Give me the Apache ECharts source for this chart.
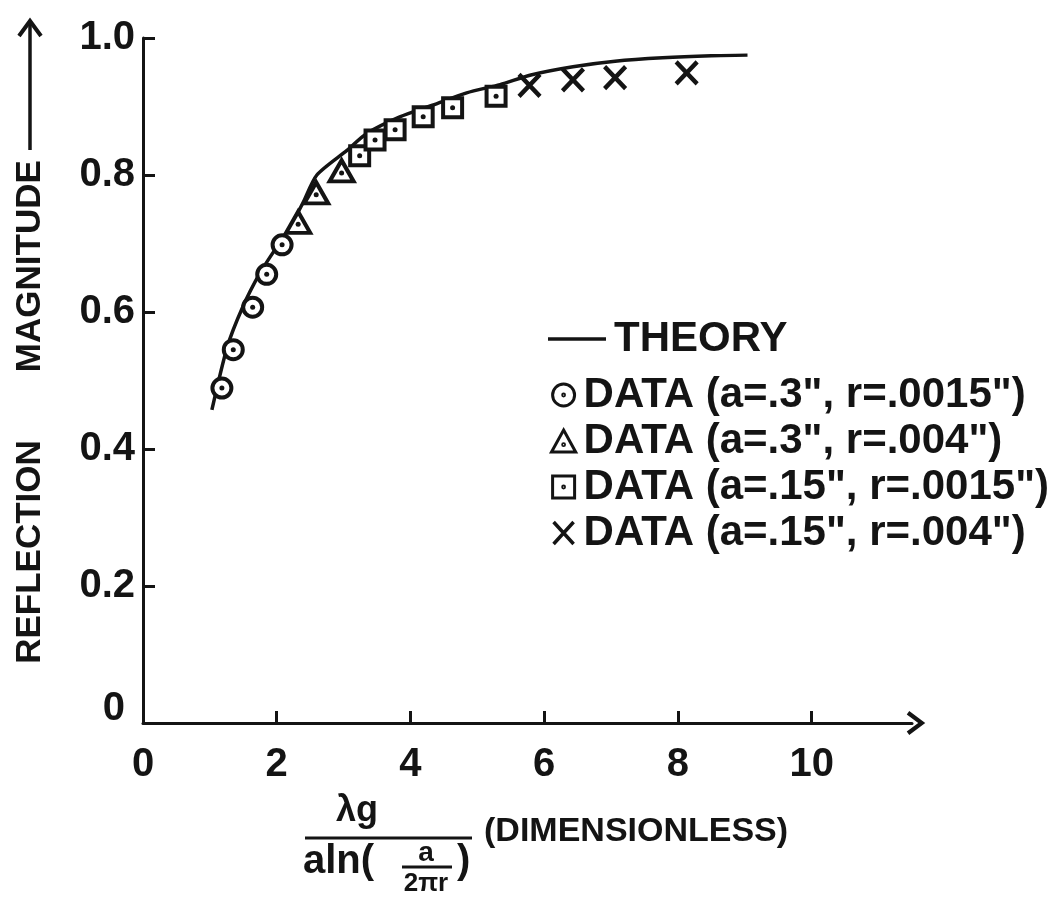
<!DOCTYPE html>
<html>
<head>
<meta charset="utf-8">
<script src="https://cdn.jsdelivr.net/npm/echarts@6/dist/echarts.min.js"></script>
<style>
  html, body { margin: 0; padding: 0; background: #fff; }
  #chart { width: 1060px; height: 916px; }
</style>
</head>
<body>
<div id="chart"></div>
<script>
// Axis ticks
const xTicks = [0, 2, 4, 6, 8, 10];
const yTicks = [0, 0.2, 0.4, 0.6, 0.8, 1.0];

// Theoretical reflection magnitude curve
const theoryX = [1.03, 1.26, 1.49, 1.75, 2.00, 2.20, 2.39, 2.60, 3.05, 3.35, 3.84, 4.33, 4.84, 5.34, 5.80, 6.43, 7.06, 7.77, 8.50, 9.04];
const theoryY = [0.457, 0.549, 0.607, 0.657, 0.695, 0.724, 0.759, 0.800, 0.836, 0.861, 0.885, 0.902, 0.920, 0.932, 0.946, 0.958, 0.966, 0.971, 0.974, 0.975];

// Measured data, a = .3", r = .0015"
const set1X = [1.18, 1.35, 1.64, 1.85, 2.08];
const set1Y = [0.489, 0.545, 0.607, 0.655, 0.698];
// a = .3", r = .004"
const set2X = [2.32, 2.59, 2.97];
const set2Y = [0.731, 0.774, 0.806];
// a = .15", r = .0015"
const set3X = [3.24, 3.47, 3.77, 4.19, 4.63, 5.28];
const set3Y = [0.828, 0.851, 0.866, 0.885, 0.898, 0.915];
// a = .15", r = .004"
const set4X = [5.78, 6.43, 7.06, 8.13];
const set4Y = [0.931, 0.939, 0.942, 0.949];

const seriesNames = [
  'THEORY',
  'DATA (a=.3", r=.0015")',
  'DATA (a=.3", r=.004")',
  'DATA (a=.15", r=.0015")',
  'DATA (a=.15", r=.004")'
];

const pairs = (xs, ys) => xs.map((x, i) => [x, ys[i]]);

const INK = '#141414';
const FONT = '"Liberation Sans", Arial, sans-serif';

// Marker outlines
const ringDot = 'path://M22,12 A10,10 0 1,1 2,12 A10,10 0 1,1 22,12 Z M12.8,12 A0.8,0.8 0 1,1 11.2,12 A0.8,0.8 0 1,1 12.8,12 Z';
const triDot = 'path://M12,1 L23,21 L1,21 Z M12.8,14.3 A0.8,0.8 0 1,1 11.2,14.3 A0.8,0.8 0 1,1 12.8,14.3 Z';
const sqDot = 'path://M1,1 L21,1 L21,21 L1,21 Z M11.8,11 A0.8,0.8 0 1,1 10.2,11 A0.8,0.8 0 1,1 11.8,11 Z';
const triangle = 'path://M12,1 L23,21 L1,21 Z';
const cross = 'path://M0,0 L20,22 M20,0 L0,22';
const chevron = 'path://M0,16 L12,0 L24,16 L20.5,18.5 L12,7 L3.5,18.5 Z';

const hollow = { color: '#fff', borderColor: INK, borderWidth: 4, opacity: 1 };

// hollow marker series plus a small centre dot drawn from the same points
function markerSeries(name, xs, ys, symbol, size, dotOffsetY) {
  return [
    {
      name, type: 'scatter', data: pairs(xs, ys),
      symbol, symbolSize: size, itemStyle: hollow, z: 3
    },
    {
      name: name + ' centre', type: 'scatter', data: pairs(xs, ys),
      symbol: 'circle', symbolSize: 5, symbolOffset: [0, dotOffsetY],
      itemStyle: { color: INK, opacity: 1 }, silent: true, z: 4
    }
  ];
}

const option = {
  backgroundColor: '#fff',
  animation: false,
  grid: { left: 143, right: 148, top: 38, bottom: 193 },
  xAxis: {
    type: 'value',
    min: 0,
    max: 11.5,
    interval: 2,
    axisLine: {
      show: true,
      lineStyle: { color: INK, width: 3 },
      symbol: ['none', chevron],
      symbolSize: [24, 19],
      symbolOffset: [0, 4]
    },
    axisTick: { show: true, inside: true, length: 12, lineStyle: { color: INK, width: 3 }, customValues: xTicks },
    axisLabel: {
      customValues: xTicks,
      margin: 22,
      color: INK,
      fontFamily: FONT,
      fontWeight: 'bold',
      fontSize: 40
    },
    splitLine: { show: false }
  },
  yAxis: {
    type: 'value',
    min: 0,
    max: 1,
    interval: 0.2,
    axisLine: { show: true, lineStyle: { color: INK, width: 3 } },
    axisTick: { show: true, inside: true, length: 12, lineStyle: { color: INK, width: 3 } },
    axisLabel: {
      customValues: yTicks,
      margin: 8,
      color: INK,
      fontFamily: FONT,
      fontWeight: 'bold',
      fontSize: 40,
      formatter: v => (v === 0 ? '{z|0}' : v.toFixed(1)),
      rich: { z: { fontFamily: FONT, fontWeight: 'bold', fontSize: 40, color: INK, padding: [0, 10, 28, 0] } }
    },
    splitLine: { show: false }
  },
  legend: [
    {
      data: [{ name: seriesNames[0], icon: 'path://M0,0 L60,0 L60,3.5 L0,3.5 Z', itemStyle: { color: INK } }],
      left: 543,
      top: 313,
      itemWidth: 58,
      itemHeight: 4,
      selectedMode: false,
      textStyle: { fontFamily: FONT, fontWeight: 'bold', fontSize: 42, color: INK, padding: [0, 0, 0, 3] }
    },
    {
      data: [
        { name: seriesNames[1], icon: ringDot, itemStyle: { color: '#fff', borderColor: INK, borderWidth: 3, opacity: 1 } },
        { name: seriesNames[2], icon: triDot, itemStyle: { color: '#fff', borderColor: INK, borderWidth: 3, opacity: 1 } },
        { name: seriesNames[3], icon: sqDot, itemStyle: { color: '#fff', borderColor: INK, borderWidth: 3, opacity: 1 } },
        { name: seriesNames[4], icon: cross, itemStyle: { color: INK, borderColor: INK, borderWidth: 3.5, opacity: 1 } }
      ],
      orient: 'vertical',
      left: 545,
      top: 369,
      itemWidth: 30,
      itemHeight: 22,
      itemGap: 4,
      selectedMode: false,
      textStyle: { fontFamily: FONT, fontWeight: 'bold', fontSize: 42, lineHeight: 42, color: INK }
    }
  ],
  series: [
    {
      name: seriesNames[0],
      type: 'line',
      data: pairs(theoryX, theoryY),
      showSymbol: false,
      smooth: 0.25,
      lineStyle: { color: INK, width: 3.5 },
      itemStyle: { color: INK },
      z: 1
    },
    ...markerSeries(seriesNames[1], set1X, set1Y, 'circle', 19, 0),
    ...markerSeries(seriesNames[2], set2X, set2Y, triangle, [24, 21], 2),
    ...markerSeries(seriesNames[3], set3X, set3Y, 'rect', 19, 0),
    {
      name: seriesNames[4], type: 'scatter', data: pairs(set4X, set4Y),
      symbol: cross, symbolSize: [21, 22], itemStyle: { color: INK, borderColor: INK, borderWidth: 4.5, opacity: 1 }, z: 3
    }
  ],
  graphic: [
    // vertical axis title with its upward arrow
    {
      type: 'text', x: 30, y: 412, rotation: Math.PI / 2,
      style: { text: 'REFLECTION       MAGNITUDE', fill: INK, font: 'bold 35px ' + FONT, align: 'center', verticalAlign: 'middle' }
    },
    { type: 'line', shape: { x1: 30, y1: 150, x2: 30, y2: 22 }, style: { stroke: INK, lineWidth: 3.5 } },
    { type: 'polyline', shape: { points: [[19, 36], [30, 21], [41, 36]] }, style: { stroke: INK, lineWidth: 4, fill: null } },
    // horizontal axis title: λg / (aln(a / 2πr)) (DIMENSIONLESS)
    { type: 'text', x: 357, y: 811, style: { text: 'λg', fill: INK, font: 'bold 36px ' + FONT, align: 'center', verticalAlign: 'middle' } },
    { type: 'line', shape: { x1: 305, y1: 838, x2: 472, y2: 838 }, style: { stroke: INK, lineWidth: 3 } },
    { type: 'text', x: 303, y: 862, style: { text: 'aln(', fill: INK, font: 'bold 40px ' + FONT, align: 'left', verticalAlign: 'middle' } },
    { type: 'text', x: 426, y: 853, style: { text: 'a', fill: INK, font: 'bold 28px ' + FONT, align: 'center', verticalAlign: 'middle' } },
    { type: 'line', shape: { x1: 402, y1: 867, x2: 452, y2: 867 }, style: { stroke: INK, lineWidth: 3 } },
    { type: 'text', x: 426, y: 884, style: { text: '2πr', fill: INK, font: 'bold 26px ' + FONT, align: 'center', verticalAlign: 'middle' } },
    { type: 'text', x: 457, y: 862, style: { text: ')', fill: INK, font: 'bold 40px ' + FONT, align: 'left', verticalAlign: 'middle' } },
    { type: 'text', x: 484, y: 832, style: { text: '(DIMENSIONLESS)', fill: INK, font: 'bold 34px ' + FONT, align: 'left', verticalAlign: 'middle' } }
  ]
};

const chart = echarts.init(document.getElementById('chart'), null, { renderer: 'canvas' });
chart.setOption(option);
</script>
</body>
</html>
